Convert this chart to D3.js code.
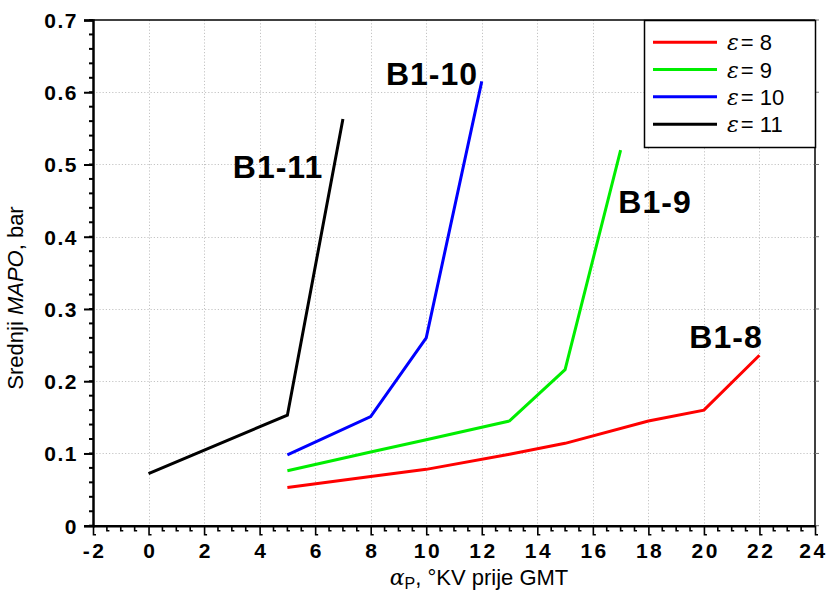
<!DOCTYPE html>
<html><head><meta charset="utf-8">
<script src="https://cdn.jsdelivr.net/npm/d3@7"></script>
<style>
body{margin:0;background:#fff;}
svg{display:block;}
</style></head>
<body>
<svg id="c" width="829" height="593"></svg>
<script>
// ---- data ----
const seriesNames = ["ε = 8", "ε = 9", "ε = 10", "ε = 11"];
const seriesColors = ["#ff0000", "#00ee00", "#0000ff", "#000000"];
const eps8x = [5, 8, 10, 13, 15, 18, 20, 22];
const eps8y = [0.053, 0.068, 0.078, 0.099, 0.114, 0.145, 0.160, 0.236];
const eps9x = [5, 8, 10, 13, 15, 17];
const eps9y = [0.076, 0.102, 0.119, 0.145, 0.216, 0.520];
const eps10x = [5, 8, 10, 12];
const eps10y = [0.098, 0.151, 0.260, 0.615];
const eps11x = [0, 5, 7];
const eps11y = [0.072, 0.153, 0.563];
const curveLabels = ["B1-8", "B1-9", "B1-10", "B1-11"];
const xTicks = [-2, 0, 2, 4, 6, 8, 10, 12, 14, 16, 18, 20, 22, 24];
const xTickLabels = ["-2", "0", "2", "4", "6", "8", "10", "12", "14", "16", "18", "20", "22", "24"];
const yTicks = [0, 0.1, 0.2, 0.3, 0.4, 0.5, 0.6, 0.7];
const yTickLabels = ["0", "0.1", "0.2", "0.3", "0.4", "0.5", "0.6", "0.7"];

const series = [
  {xs: eps8x, ys: eps8y}, {xs: eps9x, ys: eps9y},
  {xs: eps10x, ys: eps10y}, {xs: eps11x, ys: eps11y}
];

// ---- layout ----
const L = 93, R = 815, T = 20, B = 525.7;
const x = d3.scaleLinear().domain([-2, 24]).range([L, R]);
const y = d3.scaleLinear().domain([0, 0.7]).range([B, T]);
const svg = d3.select("#c");
const font = "'Liberation Sans', Arial, sans-serif";
const serif = "'DejaVu Serif', 'Liberation Serif', serif";

// grid
const grid = svg.append("g").attr("stroke", "#c4c4c4").attr("stroke-width", 1).attr("stroke-dasharray", "1.2,2");
grid.selectAll("line.v").data(xTicks.slice(1, -1)).join("line")
  .attr("x1", d => Math.round(x(d)) + 0.5).attr("x2", d => Math.round(x(d)) + 0.5)
  .attr("y1", T).attr("y2", B);
grid.selectAll("line.h").data(yTicks.slice(1, -1)).join("line")
  .attr("y1", d => Math.round(y(d)) + 0.5).attr("y2", d => Math.round(y(d)) + 0.5)
  .attr("x1", L).attr("x2", R);

// frame top/right
svg.append("line").attr("x1", L).attr("x2", R).attr("y1", T).attr("y2", T).attr("stroke", "#000").attr("stroke-width", 1.5);
svg.append("line").attr("x1", R).attr("x2", R).attr("y1", T).attr("y2", B).attr("stroke", "#000").attr("stroke-width", 1.5);
svg.append("g").selectAll("line").data(yTicks).join("line")
  .attr("x1", R).attr("x2", R + 4).attr("y1", d => y(d)).attr("y2", d => y(d))
  .attr("stroke", "#777").attr("stroke-width", 1);

// y axis
const yMinor = d3.range(0, 0.7001, 0.02);
svg.append("g").selectAll("line").data(yMinor).join("line")
  .attr("x1", L - 4).attr("x2", L).attr("y1", d => y(d)).attr("y2", d => y(d))
  .attr("stroke", "#000").attr("stroke-width", 2);
const yAxis = svg.append("g").attr("transform", `translate(${L},0)`)
  .call(d3.axisLeft(y).tickValues(yTicks).tickFormat((d, i) => yTickLabels[i]).tickSize(9).tickPadding(6));
yAxis.select(".domain").attr("stroke-width", 2.5);
yAxis.selectAll(".tick line").attr("stroke-width", 2);
yAxis.selectAll(".tick text").attr("font-family", font).attr("font-weight", "bold")
  .attr("font-size", 21).attr("letter-spacing", 1.5).attr("fill", "#000").attr("dy", "0.35em");

// x axis
const xMinor = d3.range(-2, 24.001, 0.5).filter(v => xTicks.indexOf(v) < 0);
const xm = svg.append("g").attr("fill", "none").attr("stroke", "#000").attr("stroke-width", 1.6);
xm.selectAll("path").data(xMinor).join("path")
  .attr("d", d => `M${x(d)},${B}v5h2.5`);
const xAxis = svg.append("g").attr("transform", `translate(0,${B})`)
  .call(d3.axisBottom(x).tickValues(xTicks).tickFormat((d, i) => xTickLabels[i]).tickSize(0).tickPadding(17));
xAxis.select(".domain").attr("stroke-width", 2.5);
xAxis.selectAll(".tick").append("path").attr("d", "M0,0v9h2.5").attr("fill", "none")
  .attr("stroke", "#000").attr("stroke-width", 1.6);
xAxis.selectAll(".tick text").attr("font-family", font).attr("font-weight", "bold")
  .attr("font-size", 21).attr("letter-spacing", 2.5).attr("dx", d => d === 24 ? -2 : 1.2).attr("fill", "#000");

// lines
const line = d3.line().x(d => x(d[0])).y(d => y(d[1]));
series.forEach((s, i) => {
  svg.append("path").datum(s.xs.map((v, k) => [v, s.ys[k]]))
    .attr("d", line).attr("fill", "none").attr("stroke", seriesColors[i])
    .attr("stroke-width", 3).attr("stroke-linejoin", "miter");
});

// curve labels
const labelPos = [[726, 348], [655, 213], [432, 85], [278, 178]];
curveLabels.forEach((t, i) => {
  svg.append("text").attr("x", labelPos[i][0]).attr("y", labelPos[i][1])
    .attr("text-anchor", "middle").attr("font-family", font).attr("font-weight", "bold")
    .attr("font-size", 32).attr("letter-spacing", 1).text(t);
});

// legend
const lg = svg.append("g");
lg.append("rect").attr("x", 644.5).attr("y", 20.5).attr("width", 171).attr("height", 127)
  .attr("fill", "#fff").attr("stroke", "#000").attr("stroke-width", 1.5);
const rowY = [42.3, 69.5, 96.8, 124.2];
seriesNames.forEach((n, i) => {
  lg.append("line").attr("x1", 653).attr("x2", 717).attr("y1", rowY[i]).attr("y2", rowY[i])
    .attr("stroke", seriesColors[i]).attr("stroke-width", 3);
  const t = lg.append("text").attr("x", 727).attr("y", rowY[i] + 8)
    .attr("font-family", font).attr("font-size", 22).attr("fill", "#000");
  const parts = n.split(" = ");
  t.append("tspan").attr("font-family", serif).attr("font-style", "italic").text(parts[0]);
  t.append("tspan").attr("dx", 2).text("= " + parts[1]);
});

// axis titles
const xt = svg.append("text").attr("x", 479).attr("y", 585).attr("text-anchor", "middle")
  .attr("font-family", font).attr("font-size", 22).attr("fill", "#000");
xt.append("tspan").attr("font-family", serif).attr("font-style", "italic").text("α");
xt.append("tspan").attr("font-size", 16).attr("dy", 4).text("P");
xt.append("tspan").attr("dy", -4).text(", °KV prije GMT");

const yt = svg.append("text").attr("transform", "translate(23,298) rotate(-90)").attr("text-anchor", "middle")
  .attr("font-family", font).attr("font-size", 22).attr("fill", "#000");
yt.append("tspan").text("Srednji ");
yt.append("tspan").attr("font-style", "italic").text("MAPO");
yt.append("tspan").text(", bar");
</script>
</body></html>
